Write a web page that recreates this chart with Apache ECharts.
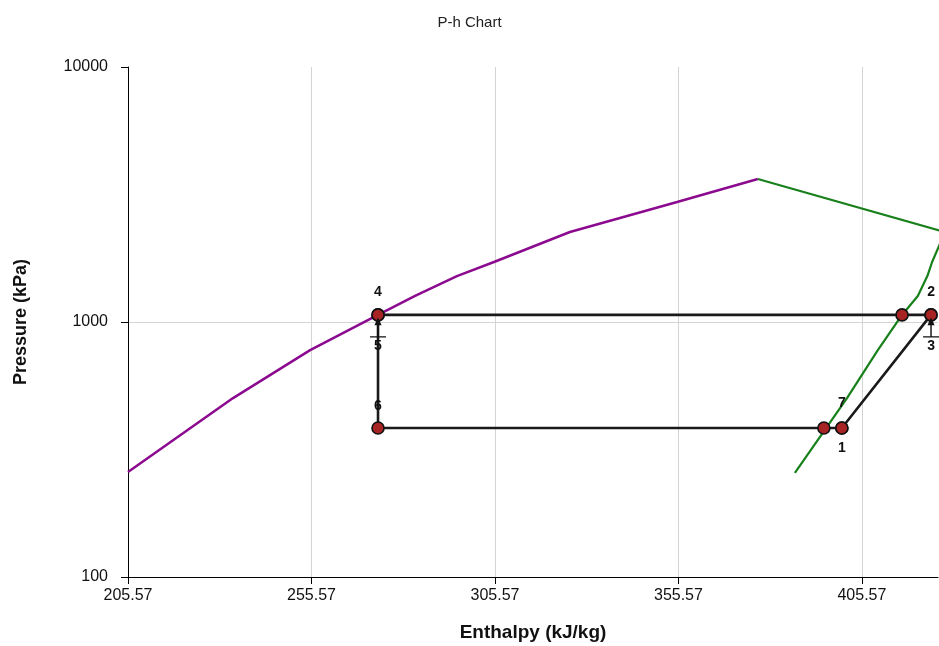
<!DOCTYPE html>
<html>
<head>
<meta charset="utf-8">
<title>P-h Chart</title>
<script src="https://cdn.jsdelivr.net/npm/echarts@6/dist/echarts.min.js"></script>
<style>
  html, body { margin: 0; padding: 0; background: #ffffff; }
  #chart { width: 939px; height: 646px; }
</style>
</head>
<body>
<div id="chart"></div>
<script>
// Saturated liquid line (enthalpy kJ/kg, pressure kPa)
const liquidH = [205.57, 234.2, 255.2, 273.7, 283.8, 295.2, 305.3, 326.0, 355.2, 377.2];
const liquidP = [258, 503, 776, 1066, 1265, 1514, 1719, 2254, 2955, 3637];

// Saturated vapour line, from low pressure up to the critical point
const vapourH = [387.3, 401.5, 409.9, 416.5, 420.8, 423.4, 424.7, 428.2, 377.2];
const vapourP = [256, 503, 776, 1066, 1265, 1514, 1719, 2254, 3637];

// Cycle state points
const stateNames = ['1', '2', '3', '4', '5', '6', '7'];
const stateH = [400.1, 424.4, 424.4, 273.7, 273.7, 273.7, 400.1];
const stateP = [384, 1066, 1066, 1066, 1066, 384, 384];

// Order in which the cycle path is traced
const cyclePath = ['1', '2', '4', '6', '1'];

// Saturated vapour points on the evaporating / condensing pressures
const satVapourH = [395.2, 416.5];
const satVapourP = [384, 1066];

// States carrying the flow-direction arrow
const arrowStates = ['3', '5'];

// Axis ticks
const hAxisMin = 205.57;
const hAxisMax = 426.3;
const hAxisStep = 50;
const pAxisTicks = [100, 1000, 10000];

const pairs = (xs, ys) => xs.map((x, i) => [x, ys[i]]);
const stateIndex = name => stateNames.indexOf(name);
const stateValue = name => [stateH[stateIndex(name)], stateP[stateIndex(name)]];

// label placement for each state marker
const labelStyle = {
  '1': { position: 'bottom', distance: 6 },
  '2': { position: 'top', distance: 9 },
  '3': { position: 'bottom', distance: 17 },
  '4': { position: 'top', distance: 9 },
  '5': { position: 'bottom', distance: 17 },
  '6': { position: 'top', distance: 8 },
  '7': { position: 'top', distance: 11 }
};

const FONT = '"Liberation Sans", Arial, sans-serif';
const ARROW = 'path://M10,0 L14,8 L10.8,8 L10.8,19 L19,19 L19,20.3 L1,20.3 L1,19 L9.2,19 L9.2,8 L6,8 Z';
const MARKER = { color: '#a82424', borderColor: '#111111', borderWidth: 1.6, opacity: 1 };

const chart = echarts.init(document.getElementById('chart'), null, { renderer: 'canvas' });

chart.setOption({
  animation: false,
  backgroundColor: '#ffffff',
  title: {
    text: 'P-h Chart',
    left: 'center',
    top: 15,
    padding: 0,
    textStyle: { fontFamily: FONT, fontSize: 15, fontWeight: 'normal', color: '#222222' }
  },
  grid: { left: 128, right: 1, top: 67, bottom: 69, containLabel: false, outerBoundsMode: 'none' },
  xAxis: {
    type: 'value',
    min: hAxisMin,
    max: hAxisMax,
    interval: hAxisStep,
    name: 'Enthalpy (kJ/kg)',
    nameLocation: 'middle',
    nameGap: 46,
    nameTextStyle: { fontFamily: FONT, fontSize: 19, fontWeight: 'bold', color: '#111111' },
    axisLine: { show: true, onZero: false, lineStyle: { color: '#000000', width: 1 } },
    axisTick: { show: true, length: 7, lineStyle: { color: '#000000' } },
    axisLabel: {
      margin: 11,
      fontFamily: FONT,
      fontSize: 16,
      color: '#111111',
      showMaxLabel: false,
      formatter: v => v.toFixed(2)
    },
    splitLine: { show: true, showMaxLine: false, showMinLine: false, lineStyle: { color: '#d4d4d4', width: 1 } }
  },
  yAxis: {
    type: 'log',
    logBase: 10,
    min: pAxisTicks[0],
    max: pAxisTicks[pAxisTicks.length - 1],
    name: 'Pressure (kPa)',
    nameLocation: 'middle',
    nameGap: 98,
    nameRotate: 90,
    nameTextStyle: { fontFamily: FONT, fontSize: 18, fontWeight: 'bold', color: '#111111' },
    axisLine: { show: true, onZero: false, lineStyle: { color: '#000000', width: 1 } },
    axisTick: { show: true, length: 7, lineStyle: { color: '#000000' } },
    axisLabel: {
      margin: 20,
      fontFamily: FONT,
      fontSize: 16,
      color: '#111111',
      formatter: v => String(Math.round(v))
    },
    splitLine: { show: true, showMaxLine: false, showMinLine: false, lineStyle: { color: '#d4d4d4', width: 1 } }
  },
  series: [
    {
      name: 'Saturated liquid',
      type: 'line',
      data: pairs(liquidH, liquidP),
      showSymbol: false,
      clip: true,
      lineStyle: { color: '#8b0a8f', width: 2.5 },
      z: 2
    },
    {
      name: 'Saturated vapour',
      type: 'line',
      data: pairs(vapourH, vapourP),
      showSymbol: false,
      clip: true,
      lineStyle: { color: '#17801a', width: 2.2 },
      z: 2
    },
    {
      name: 'Cycle',
      type: 'line',
      data: cyclePath.map(stateValue),
      showSymbol: false,
      clip: true,
      lineStyle: { color: '#1a1a1a', width: 2.6 },
      z: 3
    },
    {
      name: 'Saturated vapour points',
      type: 'scatter',
      data: pairs(satVapourH, satVapourP),
      symbol: 'circle',
      symbolSize: 12,
      itemStyle: MARKER,
      z: 4
    },
    {
      name: 'States',
      type: 'scatter',
      data: stateNames.map(name => ({
        name: name,
        value: stateValue(name),
        label: labelStyle[name]
      })),
      symbol: 'circle',
      symbolSize: 12,
      itemStyle: MARKER,
      label: {
        show: true,
        formatter: p => p.name,
        fontFamily: FONT,
        fontSize: 14,
        fontWeight: 'bold',
        color: '#111111',
        opacity: 1
      },
      z: 5
    },
    {
      name: 'Direction',
      type: 'scatter',
      data: arrowStates.map(stateValue),
      symbol: ARROW,
      symbolSize: [16, 20],
      symbolOffset: [0, 12.5],
      itemStyle: { color: '#111111', opacity: 1 },
      silent: true,
      z: 6
    }
  ]
});
</script>
</body>
</html>
